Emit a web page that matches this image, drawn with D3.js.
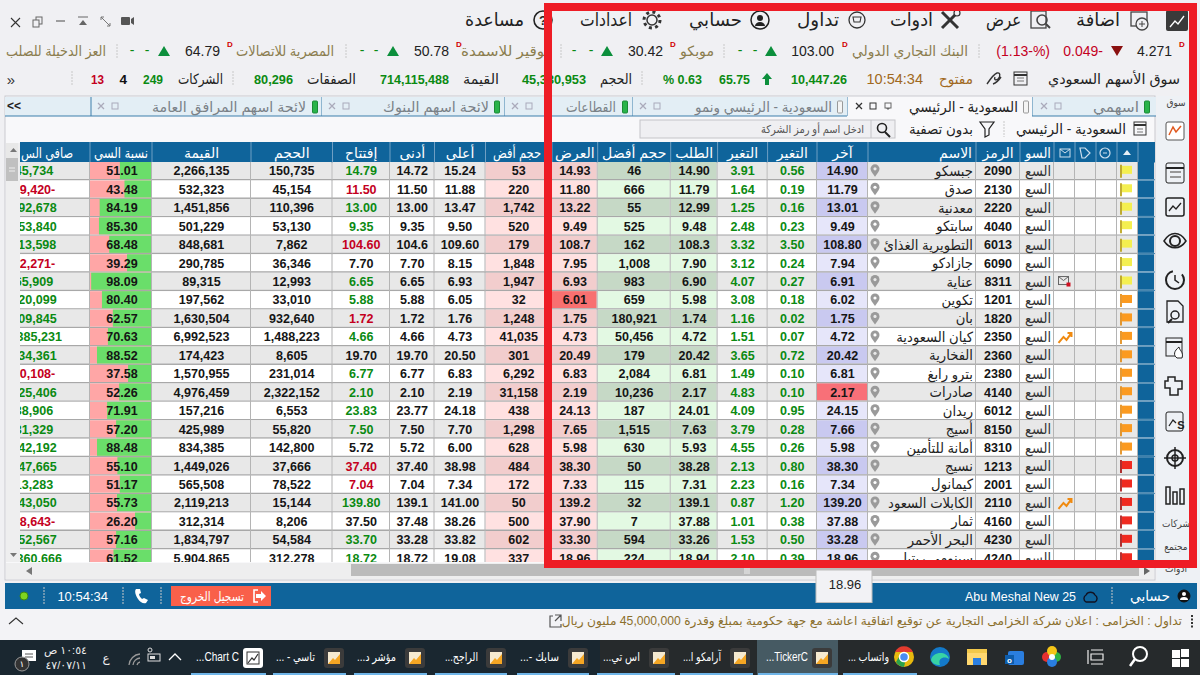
<!DOCTYPE html>
<html lang="ar"><head><meta charset="utf-8">
<script src="https://cdn.jsdelivr.net/npm/d3@7"></script>
<style>html,body{margin:0;padding:0;background:#f0f0f3;overflow:hidden}svg{display:block}text{font-family:"Liberation Sans","DejaVu Sans",sans-serif}</style>
</head><body><svg id="c" width="1200" height="675"></svg>
<script>
// ---------- table data ----------
const names=["جبسكو","صدق","معدنية","سابتكو","التطويرية الغذائ","جازادكو","عناية","تكوين","بان","كيان السعودية","الفخارية","بترو رابغ","صادرات","ريدان","أسيج","أمانة للتأمين","نسيج","كيمانول","الكابلات السعود","ثمار","البحر الأحمر","سينومي ريتيل"];
const codes=[2090,2130,2220,4040,6013,6090,8311,1201,1820,2350,2360,2380,4140,6012,8150,8310,1213,2001,2110,4160,4230,4240];
const lastPrice=["14.90","11.79","13.01","9.49","108.80","7.94","6.91","6.02","1.75","4.72","20.42","6.81","2.17","24.15","7.66","5.98","38.30","7.34","139.20","37.88","33.28","18.96"];
const change=[0.56,0.19,0.16,0.23,3.50,0.24,0.27,0.18,0.02,0.07,0.72,0.10,0.10,0.95,0.28,0.26,0.80,0.16,1.20,0.38,0.50,0.39];
const changePct=[3.91,1.64,1.25,2.48,3.32,3.12,4.07,3.08,1.16,1.51,3.65,1.49,4.83,4.09,3.79,4.55,2.13,2.23,0.87,1.01,1.53,2.10];
const bid=["14.90","11.79","12.99","9.48","108.3","7.90","6.90","5.98","1.74","4.72","20.42","6.81","2.17","24.01","7.63","5.93","38.28","7.31","139.1","37.88","33.26","18.94"];
const bidSize=[46,666,55,525,162,1008,983,659,180921,50456,179,2084,10236,187,1515,630,50,115,32,7,594,224];
const ask=["14.93","11.80","13.22","9.49","108.7","7.95","6.93","6.01","1.75","4.73","20.49","6.83","2.19","24.13","7.65","5.98","38.30","7.33","139.2","37.90","33.30","18.96"];
const askSize=[53,220,1742,520,179,1848,1947,32,1248,41035,301,6292,31158,438,1298,628,484,172,50,500,602,337];
const high=["15.24","11.88","13.47","9.50","109.60","8.15","6.93","6.05","1.76","4.73","20.50","6.83","2.19","24.18","7.70","6.00","38.98","7.34","141.00","38.26","33.82","19.08"];
const low=["14.72","11.50","13.00","9.35","104.6","7.70","6.65","5.88","1.72","4.66","19.70","6.77","2.10","23.77","7.50","5.72","37.40","7.04","139.1","37.48","33.28","18.72"];
const openPrice=["14.79","11.50","13.00","9.35","104.60","7.70","6.65","5.88","1.72","4.66","19.70","6.77","2.10","23.83","7.50","5.72","37.40","7.04","139.80","37.50","33.70","18.72"];
const volume=[150735,45154,110396,53130,7862,36346,12993,33010,932640,1488223,8605,231014,2322152,6553,55820,142800,37666,78522,15144,8206,54584,312278];
const tradedValue=[2266135,532323,1451856,501229,848681,290785,89315,197562,1630504,6992523,174423,1570955,4976459,157216,425989,834385,1449026,565508,2119213,312314,1834797,5904865];
const liqRatio=[51.01,43.48,84.19,85.30,68.48,39.29,98.09,80.40,62.57,70.63,88.52,37.58,52.26,71.91,57.20,88.48,55.10,51.17,55.73,26.20,57.16,61.52];
const netLiq=[45734,-89420,192678,153840,113598,-12271,65909,120099,109845,1385231,134361,-40108,125406,38906,31329,142192,147665,13283,143050,-18643,152567,1360666];
const flagLevel=[0,0,0,0,0,0,0,1,1,1,1,1,1,1,1,1,2,2,2,2,2,2];
const marker=["","","","","","","mail","","","trend","","","","","","","","","trend","","",""];
const headers=["صافي الس","نسبة السي","القيمة","الحجم","إفتتاح","أدنى","أعلى","حجم أفض","العرض","حجم أفضل","الطلب","التغير","التغير","آخر","الاسم","الرمز","السو"];
// ---------- ticker data ----------
const tickerNames=["البنك التجاري الدولي","موبكو","بوقير للاسمدة","المصرية للاتصالات","العز الدخيلة للصلب"];
const tickerPrices=["103.00","30.42","50.78","64.79"];
const menuLabels=["اضافة","عرض","ادوات","تداول","حسابي","اعدادات","مساعدة"];
const statLabels=["الحجم","القيمة","الصفقات","الشركات"];
const statValues=["45,330,953","714,115,488","80,296","249"];
const tabLabels=["اسهمي","السعودية - الرئيسي","السعودية - الرئيسي ونمو","القطاعات","لائحة اسهم  البنوك","لائحة اسهم  المرافق العامة"];
const taskLabels=["واتساب ...","TickerC...","آرامكو ا...","اس تي...","سابك -...","الراجح...","مؤشر د...","تاسي - ...","Chart C..."];
const sideLabels=["سوق","شركات","مجتمع","أدوات"];

// ---------- layout ----------
const svg=d3.select("#c");
const defs=svg.append("defs");
const nRows=names.length;
const yBand=d3.scaleBand().domain(d3.range(nRows)).range([162,162+nRows*18.45]);
const colKeys=["net","liq","val","vol","open","low","high","askS","ask","bidS","bid","pct","chg","last","name","code","mkt","m1","m2","m3","flag","end"];
const colEdge=[20,90,152,251,332.5,390,434.5,485.5,552,597.7,670.7,717.6,767.6,817,868,976,1020,1054,1075,1096,1117,1138,1155];
const xL=d3.scaleOrdinal(colKeys,colEdge.slice(0,-1));
const xR=d3.scaleOrdinal(colKeys,colEdge.slice(1));
const mid=k=>(xL(k)+xR(k))/2;
const liqW=d3.scaleLinear().domain([0,100]).range([0,xR("liq")-xL("liq")-1]);
const GREEN="#0b8a12",RED="#c4001e",OLIVE="#8b7d4e",BLUE="#0f649b";
const fmt=d3.format(",");
function txt(g,x,yy,s,o={}){
  const t=g.append("text").attr("x",x).attr("y",yy).text(s)
   .attr("text-anchor",o.a||"middle").attr("font-size",o.s||13).attr("fill",o.c||"#222")
   .attr("font-weight",o.b?"bold":"normal").attr("dominant-baseline","central");
  if(o.clip)t.attr("clip-path",`url(#${o.clip})`);
  if(o.rtl)t.attr("direction","rtl").attr("text-anchor","start");
  if(o.sx)o.w=t.node().getComputedTextLength()*o.sx;
  if(o.w)t.attr("textLength",o.w).attr("lengthAdjust","spacingAndGlyphs");
  return t;
}
function rect(g,x,yy,w,h,f,o={}){
  const r=g.append("rect").attr("x",x).attr("y",yy).attr("width",w).attr("height",h).attr("fill",f);
  if(o.st)r.attr("stroke",o.st).attr("stroke-width",o.sw||1);
  if(o.r)r.attr("rx",o.r);
  return r;
}
function line(g,x1,y1,x2,y2,c,w=1,d){
  const l=g.append("line").attr("x1",x1).attr("y1",y1).attr("x2",x2).attr("y2",y2).attr("stroke",c).attr("stroke-width",w);
  if(d)l.attr("stroke-dasharray",d);return l;
}
function path(g,d,f,st,sw=1){return g.append("path").attr("d",d).attr("fill",f||"none").attr("stroke",st||"none").attr("stroke-width",sw);}
function circle(g,x,yy,r,f,st,sw=1){return g.append("circle").attr("cx",x).attr("cy",yy).attr("r",r).attr("fill",f||"none").attr("stroke",st||"none").attr("stroke-width",sw);}

// page background
rect(svg,0,0,1200,675,"#f0f0f3");

// ---------- menu bar ----------
const menuG=svg.append("g");
const menuRight=[1120,1021,933,839,742,632,524],menuIcon=[1140,1040,950,857,760,652,543],menuW=[44,35,43,42,53,52,59];
menuLabels.forEach((m,i)=>{
  txt(menuG,menuRight[i],20,m,{a:"end",s:18,c:"#222",w:menuW[i]});
  const ix=menuIcon[i];
  if(i==0){rect(menuG,ix-9,12,16,14,"none",{st:"#444",sw:1.3});circle(menuG,ix+2,24,6,"#f0f0f3","#444",1.3);line(menuG,ix-1,24,ix+5,24,"#444");line(menuG,ix+2,21,ix+2,27,"#444");}
  else if(i==1){rect(menuG,ix-9,11,15,17,"none",{st:"#444",sw:1.3});circle(menuG,ix+2,20,5,"none","#444",1.6);line(menuG,ix+6,24,ix+10,28,"#444",2);}
  else if(i==2){line(menuG,ix-8,12,ix+8,28,"#333",3);line(menuG,ix+8,12,ix-8,28,"#333",3);circle(menuG,ix+7,13,3,"#f0f0f3","#333",1.2);}
  else if(i==3){circle(menuG,ix,20,8,"none","#333",1.3);path(menuG,`M${ix-4} 17h8l-1 5h-6z`,"none","#333",1.1);}
  else if(i==4){circle(menuG,ix,20,9,"none","#222",1.5);circle(menuG,ix,18,3,"#222");path(menuG,`M${ix-5} 26a5 4 0 0 1 10 0z`,"#222");}
  else if(i==5){circle(menuG,ix,20,5,"none","#333",1.5);circle(menuG,ix,20,8,"none","#333",3).attr("stroke-dasharray","3 3.3");}
  else{circle(menuG,ix,20,9,"none","#222",1.6);txt(menuG,ix,20,"?",{s:13,b:true,c:"#222"});}
});
rect(menuG,1166,10,22,21,"#3a3a3a",{r:2});
path(menuG,"M1170 27l5-6 3 3 6-8","none","#fff",1.3);
// window controls
path(menuG,"M11 18l9 9M20 18l-9 9","none","#333",1.1);
rect(menuG,36,17,6,7,"none",{st:"#666"});rect(menuG,33,20,6,7,"#f0f0f3",{st:"#666"});
line(menuG,56,21,65,21,"#666",1.2);
path(menuG,"M79 25h8l-4-5z","#666");line(menuG,78,17,88,17,"#666");
path(menuG,"M101 17l9 9M101 17h3M101 17v3M110 26h-3M110 26v-3","none","#777");
rect(menuG,121,17,9,8,"#555",{r:1});path(menuG,"M131 19l3-2v8l-3-2z","#555");

// ---------- ticker row ----------
const tk=svg.append("g");
const D=(x,yy=44)=>txt(tk,x,yy,"D",{s:8,b:true,c:"#d00000"});
const triUp=(g,x,yy)=>path(g,`M${x-6} ${yy+5}h12l-6-10z`,"#0c8f3c");
const triDn=(g,x,yy)=>path(g,`M${x-6} ${yy-5}h12l-6 10z`,"#8a1010");
const dash=(x)=>txt(tk,x,50,"-",{s:14,c:GREEN});
const sep=(g,x,y0,y1)=>line(g,x,y0,x,y1,"#c8c8c8",1,"2 1");
D(1182);txt(tk,1172,51,"4.271",{a:"end",s:14});triDn(tk,1117,51);
txt(tk,1103,51,"0.049-",{a:"end",s:14,c:RED});txt(tk,1050,51,"(1.13-%)",{a:"end",s:14,c:RED});sep(tk,979,44,58);
const tkNameR=[968,714,549,334,106],tkNameW=[116,34,88,98,100],tkDx=[845,673,459,230],tkPriceR=[834,663,449,220],tkTri=[771,607,393,164],tkD1=[755,591,376,147],tkD2=[740,574,362,132],tkSep=[724,561,346,117];
tickerNames.forEach((n,i)=>{
  txt(tk,tkNameR[i],51,n,{a:"end",s:14,c:OLIVE,w:tkNameW[i]});
  if(i<tickerPrices.length){D(tkDx[i]);txt(tk,tkPriceR[i],51,tickerPrices[i],{a:"end",s:14});triUp(tk,tkTri[i],51);dash(tkD1[i]);dash(tkD2[i]);sep(tk,tkSep[i],44,58);}
});
// market row
const mk=svg.append("g");
txt(mk,1180,79,"سوق الأسهم السعودي",{a:"end",s:14.5,c:"#222",w:132});
rect(mk,1014,72,13,13,"none",{st:"#333"});line(mk,1014,75,1027,75,"#333",2);line(mk,1017,78,1024,78,"#777");line(mk,1017,81,1024,81,"#777");
path(mk,"M987 84c4-6 7-10 10-11s4 3 1 6c-3 2-4 0-3-2M993 84c3-1 6-4 8-7","none","#333",1.4);
txt(mk,973,79,"مفتوح",{a:"end",s:14,c:"#a06820",w:34});
txt(mk,923,79,"10:54:34",{a:"end",s:14.5,c:"#a06820"});
txt(mk,847,79,"10,447.26",{a:"end",s:13.5,b:true,c:GREEN,w:56});
path(mk,"M767 73l5 6h-3v6h-4v-6h-3z","#0c8f3c");
txt(mk,750,79,"65.75",{a:"end",s:13.5,b:true,c:GREEN,w:31});
txt(mk,702,79,"% 0.63",{a:"end",s:13.5,b:true,c:GREEN,w:39});
sep(mk,642,71,86);
const stLabR=[632,499,356,223],stLabW=[32,36,49,45],stValR=[586,449,293,163],stValW=[64,69,39,20];
statLabels.forEach((l,i)=>{txt(mk,stLabR[i],79,l,{a:"end",s:14,c:"#222",w:stLabW[i]});txt(mk,stValR[i],79,statValues[i],{a:"end",s:13.5,b:true,c:GREEN,w:stValW[i]});});
txt(mk,127,79,"4",{a:"end",s:13.5,b:true,c:"#111"});
txt(mk,104,79,"13",{a:"end",s:13.5,b:true,c:RED,w:13});
sep(mk,233,71,86);sep(mk,72,71,86);
txt(mk,11,79,"»",{s:15,c:"#333"});

// ---------- panel + tabs ----------
const pn=svg.append("g");
rect(pn,5,96,1150,484,"#f8f8fa",{st:"#c9c9cf"});
const tabEdges=[1156,1032,847,632,504,321,91];
rect(pn,5,97,86,19,"#e3eef5");
txt(pn,14,106,"<<",{s:12,b:true,c:"#222"});
tabLabels.forEach((l,i)=>{
  const r=tabEdges[i],ll=tabEdges[i+1],active=i==1;
  rect(pn,ll,97,r-ll,19,active?"#f8f8fa":"#e3eef5");
  line(pn,ll,97,ll,116,"#3d7fab");
  if(!active)line(pn,ll,116,r,116,"#3d7fab",1.2);
});
line(pn,5,116,91,116,"#3d7fab",1.2);
const tabTextR=[1139,1018,832,616,489,306],tabW=[46,109,137,50,106,154],pillX=[1147,1026,840,625,497,315],tabX=[1044,859,643,515,332,101],tabGreen=[1,0,0,1,1,1];
tabLabels.forEach((l,i)=>{
  txt(pn,tabTextR[i],107,l,{a:"end",s:i==1?14.5:14,c:i==1?"#222":"#7a8187",w:tabW[i]});
  rect(pn,pillX[i]-2.5,101,5,12,tabGreen[i]?"#29b34a":"#f4f4f4",{st:tabGreen[i]?"#1b8a36":"#999",r:1});
  const cx=tabX[i],c=i==1?"#333":"#aab";
  path(pn,`M${cx-3} 103l6 6M${cx+3} 103l-6 6`,"none",c,1.3);
  rect(pn,cx+11,103,6,6,"none",{st:c});
});
rect(pn,885,103,6,5,"none",{st:"#666"});path(pn,"M888 110l2-2h-4z","#666");
// filter row
const fl=svg.append("g");
rect(fl,1134,122,12,13,"none",{st:"#333"});line(fl,1134,125,1146,125,"#333",2);line(fl,1137,129,1143,129,"#777");line(fl,1137,132,1143,132,"#777");
txt(fl,1126,129,"السعودية - الرئيسي",{a:"end",s:14,c:"#222",w:110});
sep(fl,1004,121,137);
path(fl,"M980 122h14l-5 7v6l-4 2v-8z","none","#222",1.2);
txt(fl,973,129,"بدون تصفية",{a:"end",s:14,c:"#222",w:64});
rect(fl,640,120,255,18,"#efeff2",{st:"#c4c4c8"});
line(fl,871,120,871,138,"#c4c4c8");
circle(fl,882,128,4.5,"none","#222",1.6);line(fl,885,132,890,137,"#222",2);
txt(fl,864,129,"ادخل اسم أو رمز الشركة",{a:"end",s:11,c:"#555",w:103});

// ---------- table ----------
const tb=svg.append("g");
defs.append("clipPath").attr("id","tbl").append("rect").attr("x",20).attr("y",142).attr("width",1135).attr("height",420);
const tClip=tb.append("g").attr("clip-path","url(#tbl)");
// header
rect(tClip,20,142,1135,20.5,BLUE);
const hdrKeys=colKeys.slice(0,17);
const hdrEnd={net:73,liq:148,askS:541,name:972,mkt:1051};
const hdrW={net:52,liq:54,askS:48,mkt:26};
hdrKeys.forEach((k,i)=>{
  const ended=hdrEnd[k]!==undefined;
  txt(tClip,ended?hdrEnd[k]:mid(k),153,headers[i],{a:ended?"end":"middle",s:14,c:"#fff",w:hdrW[k]});
});
colKeys.slice(1).forEach(k=>line(tClip,xL(k),142,xL(k),162,"#6f9fc3"));
// header icons
const hi=tClip.append("g");
rect(hi,1060,149,10,8,"none",{st:"#cfe0ee"});path(hi,"M1060 149l5 4 5-4","none","#cfe0ee");
path(hi,"M1080 148h5l5 5-5 5h-3z","none","#cfe0ee",1.2);
circle(hi,1105,153,5,"none","#cfe0ee",1.2);line(hi,1103,153,1107,153,"#cfe0ee");
path(hi,"M1123 155h8l-4-5z","#e6f0f7");

const tint={
  ask:["#f2cdcd","#ffe1e1"],askS:["#f2cdcd","#ffe1e1"],
  bid:["#c6d9c6","#e3f9e3"],bidS:["#c6d9c6","#e3f9e3"],
  last:["#c9c9f0","#e6e6fa"]};
const rows=tClip.selectAll("g.row").data(d3.range(nRows)).join("g").attr("class","row");
rows.each(function(i){
  const g=d3.select(this),t=yBand(i),bh=yBand.bandwidth(),cy=t+bh/2-0.4,odd=i%2==0;
  const h=bh-1.4;
  colKeys.forEach(k=>{
    let f=k=="end"?BLUE:(tint[k]?tint[k][odd?0:1]:(odd?"#e8e8e8":"#ffffff"));
    if(k=="ask"&&i==7)f="#f87070";
    if(k=="last"&&i==12)f="#f87078";
    rect(g,xL(k),t,xR(k)-xL(k)-1,h,f);
  });
  line(g,20,t+bh-0.7,1138,t+bh-0.7,"#a8a8a8",1.4);
  line(g,1138,t+bh-0.7,1155,t+bh-0.7,"#3d7fab",1);
  // liquidity bar
  const bx=xL("liq"),bw=xR("liq")-xL("liq")-1;
  rect(g,bx,t,bw,h,"#ffa6a6");
  rect(g,bx+bw-liqW(liqRatio[i]),t,liqW(liqRatio[i]),h,"#6ade6a");
  const N={s:13.5,b:true,sx:0.93};
  const B={...N,c:"#151515"},G={...N,c:GREEN};
  const prev=(+lastPrice[i])-change[i],o=+openPrice[i],oc=Math.abs(o-prev)<0.005?"#151515":(o>prev?GREEN:RED);
  const n=netLiq[i];
  txt(g,34,cy,n<0?fmt(-n)+"-":fmt(n),{...N,c:n<0?RED:GREEN});
  txt(g,mid("liq")+1,cy,liqRatio[i].toFixed(2),B);
  txt(g,mid("val"),cy,fmt(tradedValue[i]),B);
  txt(g,mid("vol"),cy,fmt(volume[i]),B);
  txt(g,mid("open"),cy,openPrice[i],{...N,c:oc});
  txt(g,mid("low"),cy,low[i],B);
  txt(g,mid("high"),cy,high[i],B);
  txt(g,mid("askS"),cy,fmt(askSize[i]),B);
  txt(g,mid("ask"),cy,ask[i],B);
  txt(g,mid("bidS"),cy,fmt(bidSize[i]),B);
  txt(g,mid("bid"),cy,bid[i],B);
  txt(g,mid("pct"),cy,changePct[i].toFixed(2),G);
  txt(g,mid("chg"),cy,change[i].toFixed(2),G);
  txt(g,mid("last"),cy,lastPrice[i],B);
  // pin
  const px=xL("name")+7;
  path(g,`M${px} ${cy+6}c-3-4-4.5-6-4.5-8a4.5 4.5 0 0 1 9 0c0 2-1.5 4-4.5 8z`,"#9a9a9a");
  circle(g,px,cy-2,1.6,odd?"#e8e8e8":"#fff");
  txt(g,xR("name")-3,cy,names[i],{a:"end",s:14,c:"#222",sx:0.94});
  txt(g,mid("code"),cy,codes[i],B);
  txt(g,xR("mkt")-3,cy,"السع",{a:"end",s:14,c:"#333",w:26});
  // marker
  if(marker[i]=="mail"){const mx=mid("m1");rect(g,mx-6,cy-5,10,8,"none",{st:"#666"});path(g,`M${mx-6} ${cy-5}l5 4 5-4`,"none","#666");rect(g,mx+2,cy+1,4,4,"#d01020");}
  if(marker[i]=="trend"){const mx=mid("m1");path(g,`M${mx-6} ${cy+6}l5-6 3 3 5-7M${mx+3} ${cy-4}h4v4`,"none","#f08a10",2);}
  // flag
  const fx=xL("flag")+4,lv=flagLevel[i];
  line(g,fx,cy-6,fx,cy+7,["#b49a00","#e08000","#a00000"][lv],1.6);
  rect(g,fx+1,cy-5,10,8,["#f4ef50","#fb9a20","#f02a20"][lv]);
});
colKeys.slice(1).forEach(k=>line(tClip,xL(k)-0.5,162,xL(k)-0.5,562,"#b4b4b4",1));
// left scrollbar
rect(tb,6,143,14,419,"#eeeeef");
rect(tb,6,143,12,20,"#e8e8e8");
path(tb,"M10 152h7l-3.5-4z","#777");
rect(tb,6,158,12,23,"#c0c0c0");line(tb,9,168,15,168,"#eee");line(tb,9,171,15,171,"#eee");
path(tb,"M10 553h7l-3.5 4z","#777");
// bottom scrollbar
rect(tb,6,563,1148,16,"#eeeeef");
rect(tb,351,564,788,12,"#bbbbbb");
path(tb,"M26 571l6-4v8z","#777");
path(tb,"M1144 567l6 4-6 4z","#666");
line(tb,745,568,745,574,"#eee");line(tb,747,568,747,574,"#eee");line(tb,749,568,749,574,"#eee");

// ---------- sidebar ----------
const sb=svg.append("g");
rect(sb,1157,96,43,485,"#eef1f5");
const sideY=[102,523,546,568];
sideLabels.forEach((l,i)=>txt(sb,1176,sideY[i],l,{s:10,c:"#444",sx:0.9}));
const iconY=[131,173,207,241,280,312,348,385,422,458,495];
iconY.forEach((cy,i)=>{
  const x=1175,c="#222";
  if(i==0){rect(sb,x-9,cy-9,18,18,"#fff",{st:"#555",r:2});path(sb,`M${x-6} ${cy+4}l4-8 3 5 5-6`,"none","#e05a20",1.5);}
  if(i==1){rect(sb,x-9,cy-10,18,20,"none",{st:c,r:2});line(sb,x-9,cy-5,x+9,cy-5,c,2);line(sb,x-5,cy-1,x+6,cy-1,"#999",2);line(sb,x-5,cy+4,x+6,cy+4,"#999",2);}
  if(i==2){rect(sb,x-9,cy-9,18,18,"none",{st:c,sw:1.5,r:2});path(sb,`M${x-6} ${cy+4}l4-5 3 3 5-6`,"none",c,1.3);}
  if(i==3){path(sb,`M${x-11} ${cy}c6-10 16-10 22 0c-6 9-16 9-22 0z`,"none",c,1.5);circle(sb,x,cy,5,"none",c,2);}
  if(i==4){circle(sb,x,cy,9,"none",c,2).attr("stroke-dasharray","40 10");path(sb,`M${x} ${cy-5}v5l4 3`,"none",c,1.5);}
  if(i==5){path(sb,`M${x-8} ${cy-11}h11l5 5v16h-16z`,"none",c,1.3);circle(sb,x,cy+3,4,"none",c,1.5);line(sb,x-3,cy+7,x-7,cy+11,c,2);}
  if(i==6){rect(sb,x-9,cy-10,16,18,"none",{st:c});line(sb,x-9,cy-6,x+7,cy-6,c,2);path(sb,`M${x+2} ${cy+10}c-4-3-3-7 2-11c0 3 5 5 3 11z`,"#fff",c);}
  if(i==7){path(sb,`M${x-7} ${cy-8}h7v4h7v8h-4v6h-8v-7h-5v-7h3z`,"none",c,1.5);}
  if(i==8){rect(sb,x-9,cy-10,17,19,"none",{st:c,r:2});path(sb,`M${x-6} ${cy+4}l4-6 3 3`,"none",c,1.3);txt(sb,x+6,cy+3,"S",{s:11,b:true,c});}
  if(i==9){circle(sb,x,cy,8,"none",c,2);circle(sb,x,cy,3,"none",c,1.5);line(sb,x-11,cy,x+11,cy,c,1.5);line(sb,x,cy-11,x,cy+11,c,1.5);}
  if(i==10){rect(sb,x-9,cy-8,4,17,"none",{st:c,sw:1.5});rect(sb,x-2,cy-3,4,12,"none",{st:c,sw:1.5});rect(sb,x+5,cy-6,4,15,"none",{st:c,sw:1.5});}
});

// ---------- red highlight frame ----------
rect(svg,548,7,645,557,"none",{st:"#ee1c25",sw:8});

// ---------- status bar ----------
const st=svg.append("g");
rect(st,5,583,1192,26,BLUE);
circle(st,24,596,4,"#7fd420","#3a8a10");
sep(st,44,587,605);sep(st,123,587,605);sep(st,161,587,605);
txt(st,108,596,"10:54:34",{a:"end",s:13,c:"#fff"});
path(st,"M136 589c-2 2 0 7 2 10s5 5 8 4l2-3-4-2-2 1c-1-1-3-3-3-5l2-1-1-4z","#fff");
rect(st,171,586,100,20,"#f9604a");
txt(st,244,596,"تسجيل الخروج",{a:"end",s:13,c:"#fff",w:64});
path(st,"M258 590h-4v12h4","none","#fff",1.6);path(st,"M256 594h5v-3l5 5-5 5v-3h-5z","#fff");
txt(st,1170,596,"حسابي",{a:"end",s:14,c:"#fff",w:40});
circle(st,1184,596,6,"#111","#111");circle(st,1184,594,2,"#fff");path(st,"M1180 600a4 3 0 0 1 8 0z","#fff");
sep(st,1112,587,605);
path(st,"M1086 602a4 4 0 0 1 0-7a5 5 0 0 1 9 0a4 4 0 0 1 0 7z","none","#112",1.4);
txt(st,1076,596,"Abu Meshal New 25",{a:"end",s:13,c:"#fff",w:111});
// tooltip
rect(st,816,570,56,32.5,"#f2f2f5",{st:"#bdbdbd"});
txt(st,845,584,"18.96",{s:13,c:"#222"});

// ---------- news ----------
const nw=svg.append("g");
rect(nw,0,609,1200,31,"#f3f3f6");
txt(nw,1182,621,"تداول : الخزامى : اعلان شركة الخزامى التجارية عن توقيع اتفاقية اعاشة مع جهة حكومية بمبلغ وقدرة 45,000,000 مليون ريال",{a:"end",s:12.2,c:"#8b6f2c"});
line(nw,1192,615,1192,628,"#333",2,"2 1.5");
path(nw,"M553 616h-3v11h11v-3M555 615h6v6M561 615l-6 6","none","#555",1.2);
path(nw,"M9 624l7-6 7 6","none","#333",1.1);

// ---------- taskbar ----------
const tbar=svg.append("g");
rect(tbar,0,640,1200,35,"#1a2730");
rect(tbar,600,640,600,35,"#262a2c");
rect(tbar,757,640,81,35,"#465a63");
const slotL=[843,758,680,597,517,435,354,273,191],slotR=[917,838,753,675,589,507,427,346,266];
const slotTextR=[889,808,721,640,559,478,396,315,239];
const slotTextW=[41,42,38,37,39,33,39,39,43];
const slotIcon=[904,822,740,659,578,496,415,334,253];
taskLabels.forEach((l,i)=>{
  rect(tbar,slotL[i],673,slotR[i]-slotL[i],2,"#6fb5e8");
  txt(tbar,slotTextR[i],657,l,{rtl:true,s:12,c:"#fff",w:slotTextW[i]});
  const ix=slotIcon[i];
  if(i==0){circle(tbar,ix,657,10,"#e8b90e");path(tbar,`M${ix-9} 652a10 10 0 0 1 18 0h-9z`,"#e33b2e");path(tbar,`M${ix-8} 662l4-7 5 8-1 4a10 10 0 0 1-8-5z`,"#2ba24c");circle(tbar,ix,657,4.5,"#4a8df0","#fff",1.5);}
  else if(i==8){rect(tbar,ix-10,648,20,20,"#fff",{r:3});rect(tbar,ix-6,652,12,12,"none",{st:"#333"});path(tbar,`M${ix-5} 663l4-5 2 2 4-6`,"none","#333",1.2);}
  else{rect(tbar,ix-10,648,20,20,"#3b3b3b",{r:3});rect(tbar,ix-6,652,12,12,"#f6ead0");path(tbar,`M${ix-6} 664l5-6 2 2 5-6v10z`,"#f5a623");}
});
// system icons
circle(tbar,940,657,10,"#1379c9");path(tbar,"M931 660c2-9 16-9 18-1c-3-3-12-2-9 6c-5 0-8-2-9-5z","#38d3a4");
rect(tbar,967,649,20,16,"#f2c84b");rect(tbar,967,653,20,12,"#ffd870");rect(tbar,973,658,8,7,"#2a7ee0");
rect(tbar,1008,651,16,14,"#2a7ee0",{r:2});rect(tbar,1005,655,9,9,"#0d5cab");txt(tbar,1009.5,660,"o",{s:8,b:true,c:"#fff"});
circle(tbar,1047,657,5,"#e63030");circle(tbar,1056,657,5,"#2fb344");circle(tbar,1052,651,5,"#f5c518");circle(tbar,1052,662,5,"#2a7ee0");circle(tbar,1052,657,3,"#fff");
path(tbar,"M1088 650v14M1091 650h12M1091 664h12M1091 654h12v6h-12z","none","#eee",1.2);
circle(tbar,1140,654,7,"none","#fff",2);line(tbar,1135,659,1130,666,"#fff",2.5);
[[1172,650],[1181,649],[1172,659],[1181,659]].forEach(p=>rect(tbar,p[0],p[1],8,8,"#fff"));
// tray
path(tbar,"M169 660l6-6 6 6","none","#fff",1.3);
rect(tbar,148,654,12,7,"none",{st:"#ddd"});rect(tbar,150,656,5,3,"#ddd");circle(tbar,150,650,2,"none","#ddd");
path(tbar,"M129 665a12 12 0 0 1 11-11M133 665a8 8 0 0 1 7-7M137 665a4 4 0 0 1 3-3","none","#999",1.3);
txt(tbar,106,658,"ع",{s:12,c:"#eee"});
txt(tbar,87,650,"١٠:٥٤ ص",{a:"end",s:11,c:"#eee"});
txt(tbar,87,665,"٤٧/٠٧/١١",{a:"end",s:11,c:"#eee"});
rect(tbar,22,650,14,11,"#fff");line(tbar,25,654,33,654,"#555");line(tbar,25,657,33,657,"#555");
circle(tbar,22,664,7,"#333","#999");txt(tbar,22,664,"١",{s:9,c:"#fff"});
</script></body></html>
